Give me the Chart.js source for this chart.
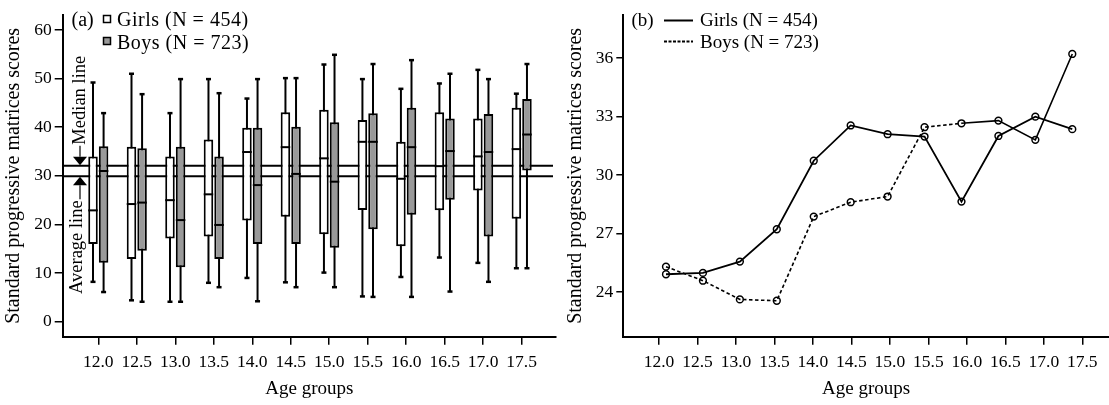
<!DOCTYPE html>
<html>
<head>
<meta charset="utf-8">
<script src="https://cdn.jsdelivr.net/npm/chart.js@4/dist/chart.umd.min.js"></script>
<style>
html,body{margin:0;padding:0;background:#fff;}
#wrap{position:relative;width:1109px;height:405px;overflow:hidden;background:#fff;}
canvas{position:absolute;top:0;}
</style>
</head>
<body>
<div id="wrap">
<canvas id="ca" width="560" height="405" style="left:0px"></canvas>
<canvas id="cb" width="549" height="405" style="left:560px"></canvas>
</div>
<script>
// ---------- data ----------
const ageGroups = [12.0, 12.5, 13.0, 13.5, 14.0, 14.5, 15.0, 15.5, 16.0, 16.5, 17.0, 17.5];
const yTicksA = [0, 10, 20, 30, 40, 50, 60];
const yTicksB = [24, 27, 30, 33, 36];

// panel (a): box plots
const girlsMin    = [8.2, 4.4, 4.1, 8.0, 9.0, 8.1, 10.1, 5.2, 9.2, 13.2, 12.1, 11.0];
const girlsQ1     = [16.0, 12.9, 17.1, 17.5, 20.8, 21.6, 18.0, 23.0, 15.5, 22.9, 27.0, 21.2];
const girlsMedian = [22.9, 24.2, 25.0, 26.2, 34.9, 35.9, 33.6, 37.0, 29.4, 32.0, 34.0, 35.5];
const girlsQ3     = [34.0, 36.0, 34.0, 37.5, 39.9, 43.1, 43.6, 41.5, 37.0, 43.1, 41.8, 44.0];
const girlsMax    = [49.2, 51.0, 42.9, 49.9, 45.9, 50.1, 52.9, 49.9, 47.9, 49.0, 51.8, 46.9];

const boysMin    = [6.1, 4.1, 4.1, 7.1, 4.2, 7.1, 7.1, 5.1, 5.1, 6.2, 8.2, 11.0];
const boysQ1     = [12.1, 14.6, 11.2, 12.9, 16.0, 16.0, 15.2, 19.0, 22.0, 25.1, 17.5, 31.1];
const boysMedian = [31.0, 24.5, 20.9, 19.9, 28.1, 30.4, 28.8, 37.0, 35.9, 35.1, 34.9, 38.5];
const boysQ3     = [36.1, 35.7, 36.0, 34.0, 39.9, 40.1, 41.0, 42.9, 44.0, 41.8, 42.7, 45.8];
const boysMax    = [42.9, 46.8, 49.9, 47.0, 49.9, 50.1, 54.9, 53.0, 53.8, 51.0, 49.9, 53.0];

const medianLineValue = 32.1;
const averageLineValue = 29.9;

// panel (b): mean scores
const girlsMean = [24.91, 24.98, 25.56, 27.22, 30.74, 32.55, 32.10, 31.98, 28.64, 32.01, 33.00, 32.36];
const boysMean  = [25.30, 24.58, 23.62, 23.55, 27.87, 28.61, 28.90, 32.46, 32.66, 32.80, 31.81, 36.22];

// ---------- common styles ----------
const SERIF = '"Liberation Serif", "Times New Roman", serif';
const tickFont = {family: SERIF, size: 17.5};
const titleFontY = {family: SERIF, size: 20};
const titleFontX = {family: SERIF, size: 19};

function line(ctx, x1, y1, x2, y2) { ctx.beginPath(); ctx.moveTo(x1, y1); ctx.lineTo(x2, y2); ctx.stroke(); }

// ---------- panel (a) ----------
const boxStats = [
  {min: girlsMin, med: girlsMedian, max: girlsMax},
  {min: boysMin, med: boysMedian, max: boysMax}
];

const boxPlugin = {
  id: 'boxExtras',
  beforeDatasetsDraw(chart) {
    const {ctx, chartArea: a, scales: {y}} = chart;
    ctx.save();
    ctx.strokeStyle = '#000';
    ctx.lineWidth = 2;
    [medianLineValue, averageLineValue].forEach(v => {
      const py = y.getPixelForValue(v);
      line(ctx, a.left, py, a.right - 3, py);
    });
    boxStats.forEach((st, di) => {
      const meta = chart.getDatasetMeta(di);
      meta.data.forEach((bar, i) => {
        const x = bar.x;
        const top = y.getPixelForValue(st.max[i]);
        const bot = y.getPixelForValue(st.min[i]);
        ctx.lineWidth = 2;
        line(ctx, x, top, x, bot);
        ctx.lineWidth = 2.5;
        line(ctx, x - 2.5, top, x + 2.5, top);
        line(ctx, x - 2.5, bot, x + 2.5, bot);
      });
    });
    ctx.restore();
  },
  afterDatasetsDraw(chart) {
    const {ctx, scales: {y}} = chart;
    ctx.save();
    ctx.strokeStyle = '#000';
    ctx.lineWidth = 2;
    boxStats.forEach((st, di) => {
      const meta = chart.getDatasetMeta(di);
      meta.data.forEach((bar, i) => {
        const py = y.getPixelForValue(st.med[i]);
        line(ctx, bar.x - bar.width / 2, py, bar.x + bar.width / 2, py);
      });
    });
    ctx.restore();
  },
  afterDraw(chart) {
    const {ctx, scales: {y}} = chart;
    ctx.save();
    ctx.fillStyle = '#000';
    ctx.strokeStyle = '#000';
    // legend
    ctx.font = '20px ' + SERIF;
    ctx.textBaseline = 'alphabetic';
    ctx.textAlign = 'left';
    ctx.fillText('(a)', 71.5, 26);
    if ('letterSpacing' in ctx) ctx.letterSpacing = '0.5px';
    ctx.fillText(chart.data.datasets[0].label, 117, 26);
    ctx.fillText(chart.data.datasets[1].label, 117, 48.5);
    if ('letterSpacing' in ctx) ctx.letterSpacing = '0px';
    ctx.lineWidth = 1.5;
    ctx.fillStyle = chart.data.datasets[0].backgroundColor;
    ctx.fillRect(103.5, 15.5, 7, 7); ctx.strokeRect(103.5, 15.5, 7, 7);
    ctx.fillStyle = chart.data.datasets[1].backgroundColor;
    ctx.fillRect(103.5, 37.5, 7, 7); ctx.strokeRect(103.5, 37.5, 7, 7);
    // median / average annotations
    ctx.fillStyle = '#000';
    const pm = y.getPixelForValue(medianLineValue);
    const pa = y.getPixelForValue(averageLineValue);
    const ax = 80;
    ctx.beginPath();
    ctx.moveTo(ax - 7, pm - 9); ctx.lineTo(ax + 7, pm - 9); ctx.lineTo(ax, pm - 0.5); ctx.closePath(); ctx.fill();
    ctx.beginPath();
    ctx.moveTo(ax - 7, pa + 9); ctx.lineTo(ax + 7, pa + 9); ctx.lineTo(ax, pa + 0.5); ctx.closePath(); ctx.fill();
    ctx.lineWidth = 1.2;
    line(ctx, ax, pm - 9, ax, pm - 20);
    line(ctx, ax, pa + 9, ax, pa + 23);
    ctx.font = '18.5px ' + SERIF;
    ctx.textBaseline = 'middle';
    ctx.save();
    ctx.translate(ax, pm - 21); ctx.rotate(-Math.PI / 2);
    ctx.textAlign = 'left';
    ctx.fillText('Median line', 0, 0);
    ctx.restore();
    ctx.save();
    ctx.translate(ax - 3, pa + 24); ctx.rotate(-Math.PI / 2);
    ctx.textAlign = 'right';
    ctx.fillText('Average line', 0, 0);
    ctx.restore();
    ctx.restore();
  }
};

new Chart(document.getElementById('ca'), {
  type: 'bar',
  data: {
    datasets: [
      {
        label: 'Girls (N = 454)',
        data: ageGroups.map((a, i) => ({x: a, y: [girlsQ1[i], girlsQ3[i]]})),
        backgroundColor: '#ffffff', borderColor: '#000', borderWidth: 2, borderSkipped: false,
        categoryPercentage: 0.55, barPercentage: 0.9
      },
      {
        label: 'Boys (N = 723)',
        data: ageGroups.map((a, i) => ({x: a, y: [boysQ1[i], boysQ3[i]]})),
        backgroundColor: '#999999', borderColor: '#000', borderWidth: 2, borderSkipped: false,
        categoryPercentage: 0.55, barPercentage: 0.9
      }
    ]
  },
  options: {
    responsive: false, animation: false, devicePixelRatio: 1,
    layout: {autoPadding: false, padding: {top: 15, right: 4, left: 0, bottom: 0}},
    plugins: {legend: {display: false}, tooltip: {enabled: false}},
    scales: {
      x: {
        type: 'linear', offset: false, min: 11.5375, max: 17.946,
        afterBuildTicks: s => { s.ticks = ageGroups.map(v => ({value: v})); },
        afterFit: s => { s.height = 68.3; },
        ticks: {callback: v => Number(v).toFixed(1), font: tickFont, color: '#000', padding: 7, maxRotation: 0, autoSkip: false},
        grid: {drawOnChartArea: false, offset: false, tickLength: 8, color: '#000', lineWidth: 1.5},
        border: {color: '#000', width: 2},
        title: {display: true, text: 'Age groups', font: titleFontX, color: '#000', padding: {top: 4, bottom: 5}}
      },
      y: {
        min: -3.085, max: 63.085,
        afterBuildTicks: s => { s.ticks = yTicksA.map(v => ({value: v})); },
        afterFit: s => { s.width = 62.7; },
        ticks: {font: tickFont, color: '#000', padding: 3},
        grid: {drawOnChartArea: false, tickLength: 8, color: '#000', lineWidth: 1.5},
        border: {color: '#000', width: 2},
        title: {display: true, text: 'Standard progressive matrices scores', font: titleFontY, color: '#000', padding: {top: 2, bottom: 0}}
      }
    }
  },
  plugins: [boxPlugin]
});

// ---------- panel (b) ----------
const legendPluginB = {
  id: 'legendB',
  afterDraw(chart) {
    const {ctx} = chart;
    ctx.save();
    ctx.fillStyle = '#000'; ctx.strokeStyle = '#000';
    ctx.font = '19px ' + SERIF;
    ctx.textBaseline = 'alphabetic'; ctx.textAlign = 'left';
    ctx.fillText('(b)', 71.5, 26);
    ctx.fillText(chart.data.datasets[0].label, 140, 26);
    ctx.fillText(chart.data.datasets[1].label, 140, 48);
    ctx.lineWidth = 2;
    line(ctx, 104, 20.5, 133, 20.5);
    ctx.setLineDash([3, 1.5]);
    line(ctx, 104, 41.5, 133, 41.5);
    ctx.restore();
  }
};

new Chart(document.getElementById('cb'), {
  type: 'line',
  data: {
    datasets: [
      {
        label: 'Girls (N = 454)',
        data: ageGroups.map((a, i) => ({x: a, y: girlsMean[i]})),
        xAxisID: 'xd',
        borderColor: '#000', borderWidth: 1.8, fill: false, tension: 0,
        pointRadius: 3.4, pointBorderWidth: 1.5, pointBackgroundColor: 'rgba(255,255,255,0)', pointBorderColor: '#000'
      },
      {
        label: 'Boys (N = 723)',
        data: ageGroups.map((a, i) => ({x: a, y: boysMean[i]})),
        xAxisID: 'xd',
        borderColor: '#000', borderWidth: 1.6, fill: false, tension: 0,
        segment: {borderDash: c => (c.p0DataIndex < 8 ? [3.5, 2.5] : undefined)},
        pointRadius: 3.4, pointBorderWidth: 1.5, pointBackgroundColor: 'rgba(255,255,255,0)', pointBorderColor: '#000'
      }
    ]
  },
  options: {
    responsive: false, animation: false, devicePixelRatio: 1,
    layout: {autoPadding: false, padding: {top: 15, right: 0, left: 0, bottom: 0}},
    plugins: {legend: {display: false}, tooltip: {enabled: false}},
    scales: {
      x: {
        type: 'linear', position: 'bottom', offset: false, min: 11.536, max: 17.847,
        afterBuildTicks: s => { s.ticks = ageGroups.map(v => ({value: v})); },
        afterFit: s => { s.height = 68.3; },
        ticks: {callback: v => Number(v).toFixed(1), font: tickFont, color: '#000', padding: 7, maxRotation: 0, autoSkip: false},
        grid: {drawOnChartArea: false, tickLength: 8, color: '#000', lineWidth: 1.5},
        border: {color: '#000', width: 2},
        title: {display: true, text: 'Age groups', font: titleFontX, color: '#000', padding: {top: 4, bottom: 5}}
      },
      xd: {
        type: 'linear', position: 'bottom', display: false, offset: false, min: 11.422, max: 17.997
      },
      y: {
        min: 21.705, max: 38.22,
        afterBuildTicks: s => { s.ticks = yTicksB.map(v => ({value: v})); },
        afterFit: s => { s.width = 63.3; },
        ticks: {font: tickFont, color: '#000', padding: 3},
        grid: {drawOnChartArea: false, tickLength: 7, color: '#000', lineWidth: 1.5},
        border: {color: '#000', width: 2},
        title: {display: true, text: 'Standard progressive matrices scores', font: titleFontY, color: '#000', padding: {top: 4, bottom: 0}}
      }
    }
  },
  plugins: [legendPluginB]
});
</script>
</body>
</html>
